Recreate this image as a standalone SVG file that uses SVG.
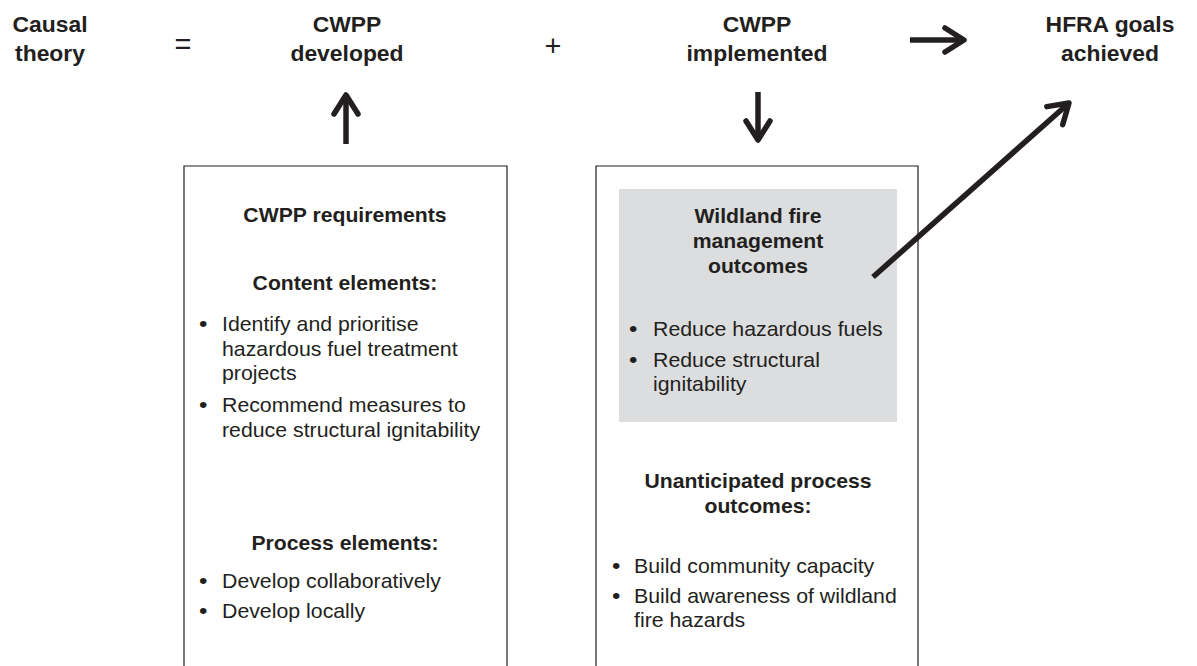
<svg xmlns="http://www.w3.org/2000/svg" width="1197" height="666" viewBox="0 0 1197 666">
<style>
text{font-family:"Liberation Sans",Arial,Helvetica,sans-serif;fill:#231f20}
.t{font-size:21.5px;font-weight:bold;text-anchor:middle}
.h{font-size:20px;font-weight:bold;text-anchor:middle}
.b{font-size:20px}
.op{font-size:29px;text-anchor:middle}
.box{fill:none;stroke:#231f20;stroke-width:1.2}
.arr{fill:none;stroke:#231f20;stroke-width:5.5;stroke-linecap:butt;stroke-linejoin:round}
</style>
<defs>
<marker id="head" markerUnits="userSpaceOnUse" orient="auto" viewBox="-26 -16 32 32" refX="0" refY="0" markerWidth="32" markerHeight="32">
<path d="M-19 -12 L0 0 L-19 12" fill="none" stroke="#231f20" stroke-width="5.5" stroke-linecap="round" stroke-linejoin="round"/>
</marker>
</defs>
<rect width="1197" height="666" fill="#fff"/>

<g id="causal-theory">
<text class="t" transform="translate(50 32) scale(1.065 1)">Causal</text>
<text class="t" transform="translate(50 61) scale(1.065 1)">theory</text>
</g>
<g id="equals"><text class="op" transform="translate(183 54)">=</text></g>
<g id="cwpp-developed">
<text class="t" transform="translate(347 32) scale(1.065 1)">CWPP</text>
<text class="t" transform="translate(347 61) scale(1.065 1)">developed</text>
</g>
<g id="plus"><text class="op" transform="translate(553 56)">+</text></g>
<g id="cwpp-implemented">
<text class="t" transform="translate(757 32) scale(1.065 1)">CWPP</text>
<text class="t" transform="translate(757 61) scale(1.065 1)">implemented</text>
</g>
<g id="hfra-goals">
<text class="t" transform="translate(1110 32) scale(1.065 1)">HFRA goals</text>
<text class="t" transform="translate(1110 61) scale(1.065 1)">achieved</text>
</g>

<g id="cwpp-requirements">
<path class="box" d="M184 667 V166 H507 V667"/>
<text class="h" transform="translate(345 222) scale(1.06 1)">CWPP requirements</text>
<text class="h" transform="translate(345 290) scale(1.06 1)">Content elements:</text>
<text class="b" transform="translate(199 331) scale(1.2 1.1)">•</text>
<text class="b" transform="translate(222 331) scale(1.065 1)">Identify and prioritise</text>
<text class="b" transform="translate(222 356) scale(1.065 1)">hazardous fuel treatment</text>
<text class="b" transform="translate(222 380) scale(1.065 1)">projects</text>
<text class="b" transform="translate(199 412) scale(1.2 1.1)">•</text>
<text class="b" transform="translate(222 412) scale(1.065 1)">Recommend measures to</text>
<text class="b" transform="translate(222 437) scale(1.065 1)">reduce structural ignitability</text>
<text class="h" transform="translate(345 550) scale(1.06 1)">Process elements:</text>
<text class="b" transform="translate(199 588) scale(1.2 1.1)">•</text>
<text class="b" transform="translate(222 588) scale(1.065 1)">Develop collaboratively</text>
<text class="b" transform="translate(199 618) scale(1.2 1.1)">•</text>
<text class="b" transform="translate(222 618) scale(1.065 1)">Develop locally</text>
</g>

<g id="cwpp-implementation">
<path class="box" d="M596 667 V166 H918 V667"/>
</g>
<g id="wildland-fire-outcomes">
<rect x="619" y="189" width="278" height="233" fill="#dcddde"/>
<text class="h" transform="translate(758 223) scale(1.06 1)">Wildland fire</text>
<text class="h" transform="translate(758 248) scale(1.06 1)">management</text>
<text class="h" transform="translate(758 273) scale(1.06 1)">outcomes</text>
<text class="b" transform="translate(629 336) scale(1.2 1.1)">•</text>
<text class="b" transform="translate(653 336) scale(1.065 1)">Reduce hazardous fuels</text>
<text class="b" transform="translate(629 367) scale(1.2 1.1)">•</text>
<text class="b" transform="translate(653 367) scale(1.065 1)">Reduce structural</text>
<text class="b" transform="translate(653 391) scale(1.065 1)">ignitability</text>
</g>
<g id="unanticipated-outcomes">
<text class="h" transform="translate(758 488) scale(1.06 1)">Unanticipated process</text>
<text class="h" transform="translate(758 513) scale(1.06 1)">outcomes:</text>
<text class="b" transform="translate(612 573) scale(1.2 1.1)">•</text>
<text class="b" transform="translate(634 573) scale(1.065 1)">Build community capacity</text>
<text class="b" transform="translate(612 603) scale(1.2 1.1)">•</text>
<text class="b" transform="translate(634 603) scale(1.065 1)">Build awareness of wildland</text>
<text class="b" transform="translate(634 627) scale(1.065 1)">fire hazards</text>
</g>

<g id="connectors">
<line class="arr" x1="346" y1="144" x2="346" y2="95" marker-end="url(#head)"/>
<line class="arr" x1="758" y1="92" x2="758" y2="140" marker-end="url(#head)"/>
<line class="arr" x1="910" y1="40" x2="964" y2="40" marker-end="url(#head)"/>
<line class="arr" x1="873" y1="277" x2="1069" y2="103" marker-end="url(#head)"/>
</g>
</svg>
